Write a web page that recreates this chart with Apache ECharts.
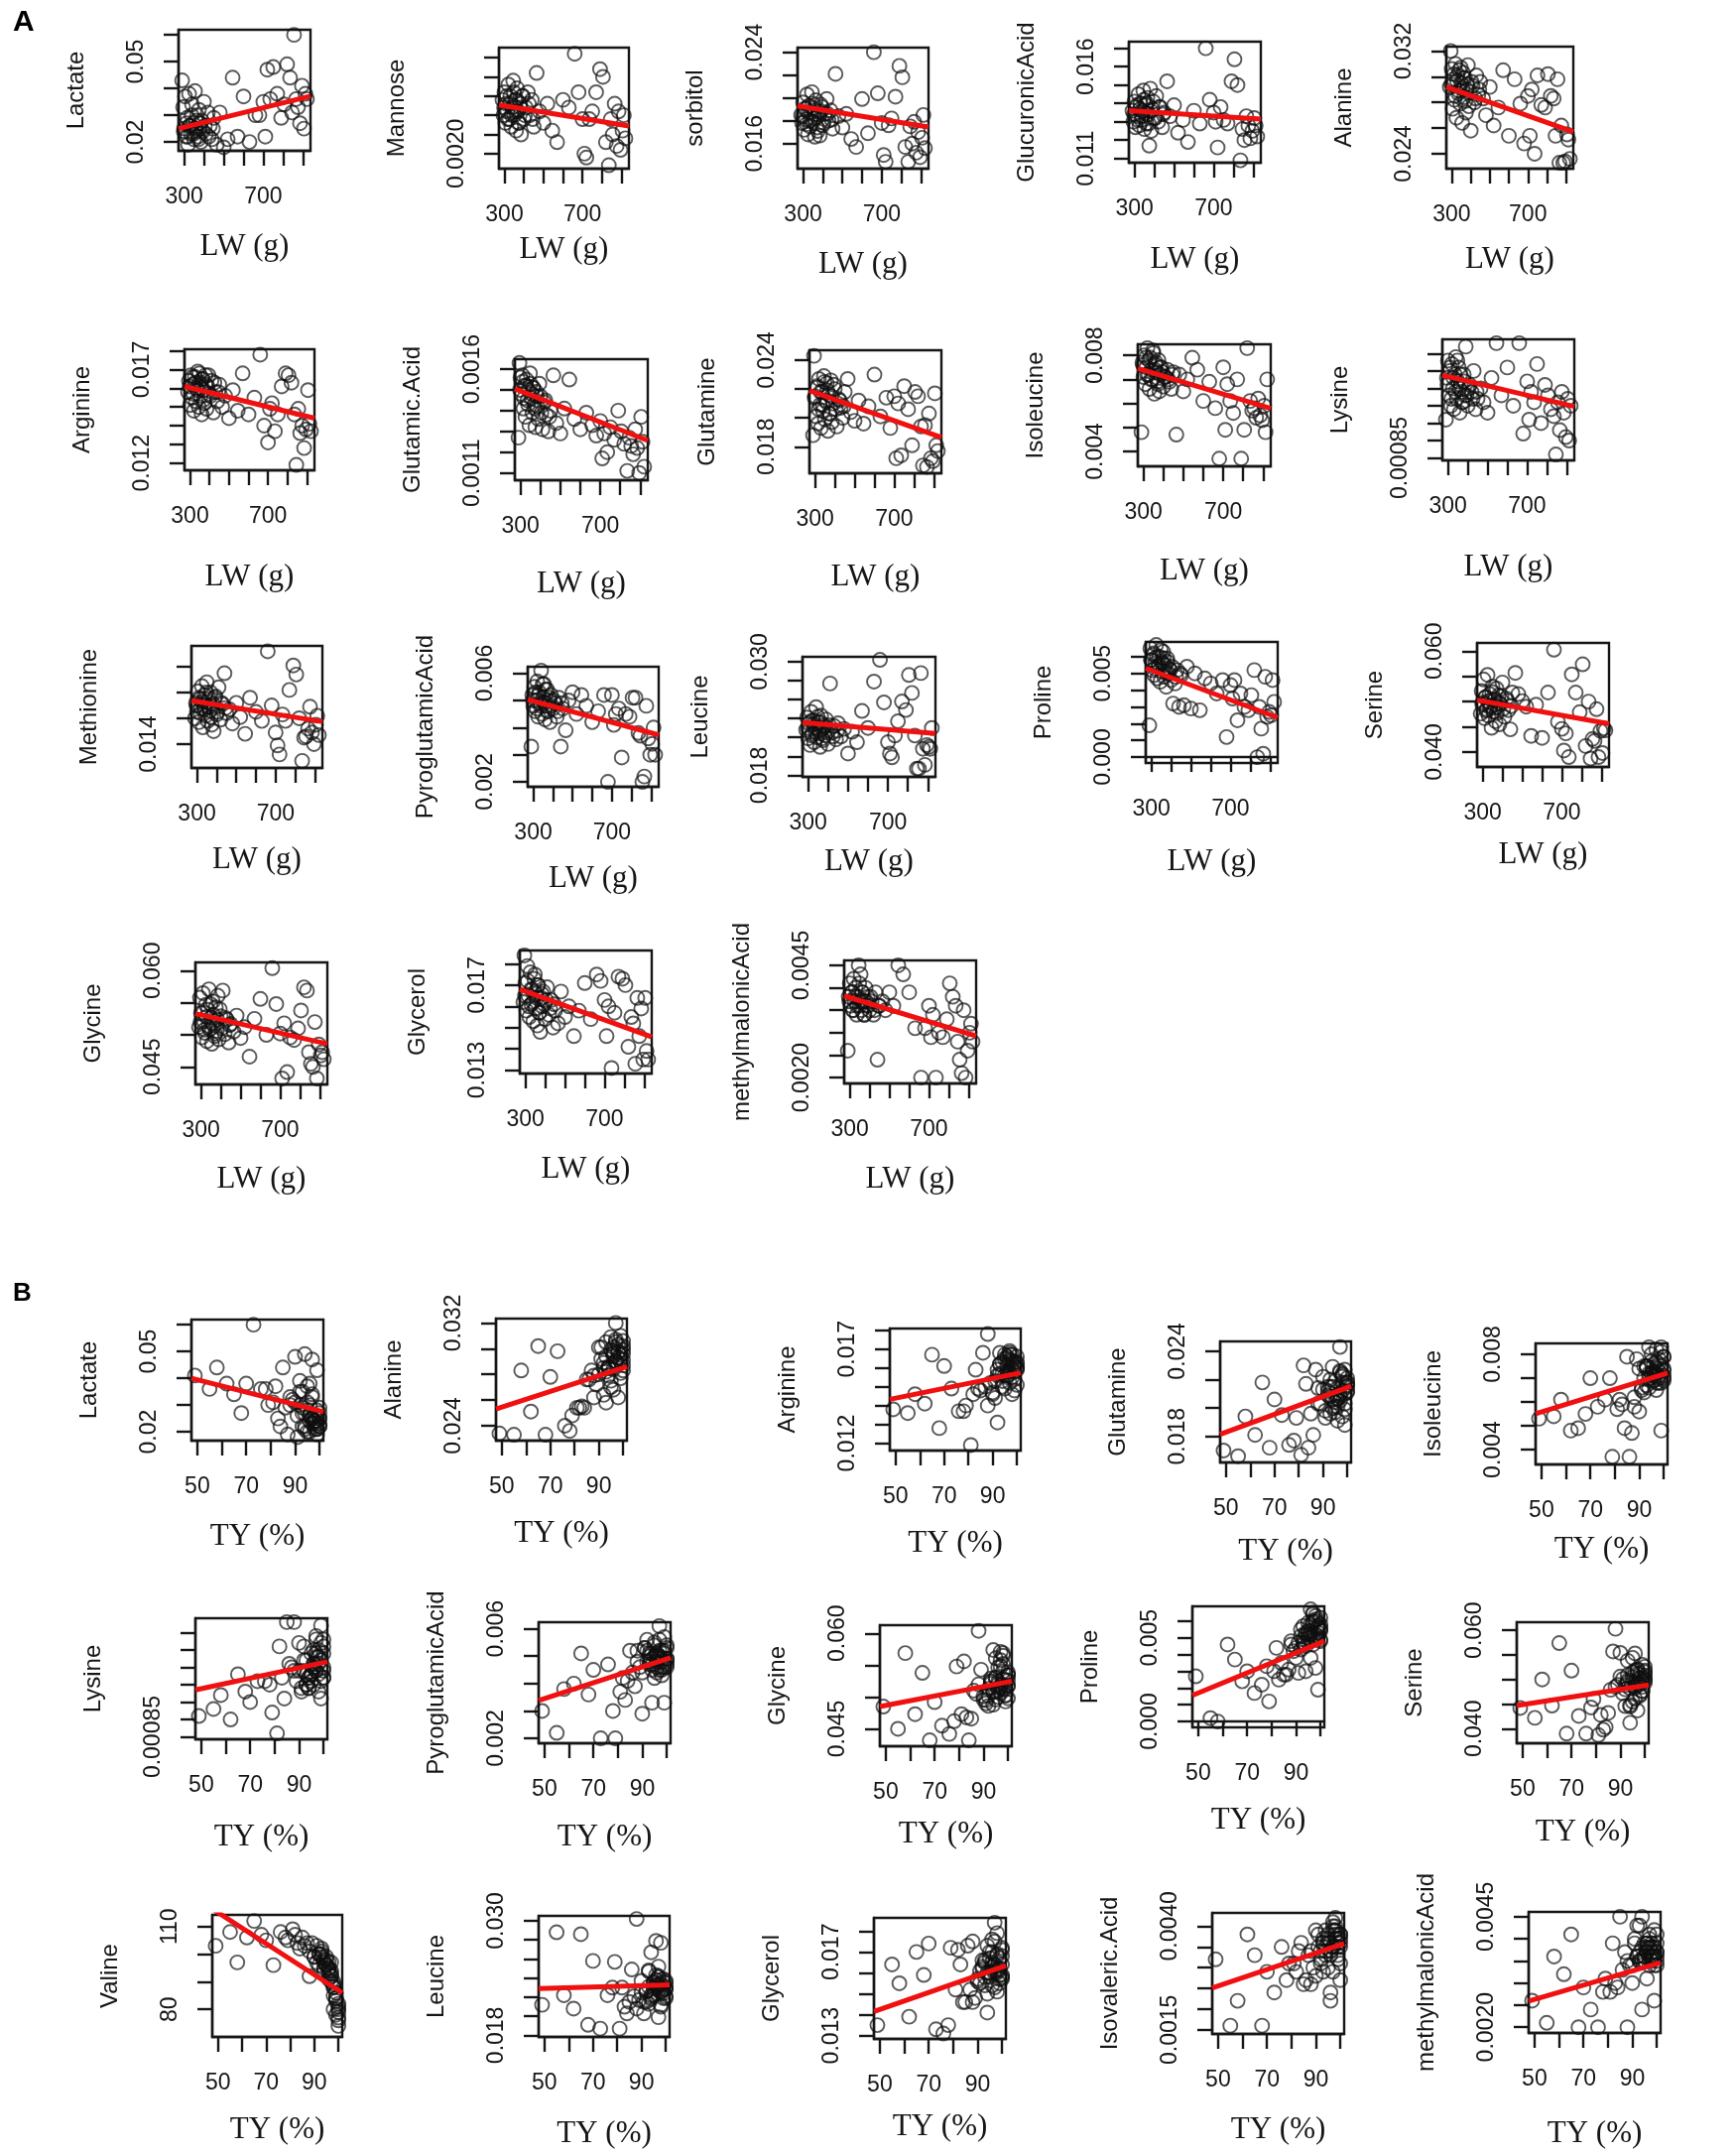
<!DOCTYPE html>
<html>
<head>
<meta charset="utf-8">
<script src="https://cdn.jsdelivr.net/npm/echarts@6/dist/echarts.min.js"></script>
<style>
  html, body { margin: 0; padding: 0; background: #fff; }
  #chart { width: 1750px; height: 2172px; }
</style>
</head>
<body>
<div id="chart"></div>
<script>
// one value per animal, same order in every array
const lw = [290, 295, 300, 305, 310, 315, 320, 325, 330, 335, 340, 345, 350, 355, 360, 365, 370, 375, 380, 385,
  390, 400, 410, 420, 430, 440, 450, 465, 480, 500, 520, 545, 570, 600, 630, 660, 680,
  700, 710, 720, 735, 750, 770, 790, 805, 820, 835, 845, 855, 865, 875, 885, 895, 905, 912, 920,
  298, 312, 318, 328, 338, 348, 358, 362, 372, 382, 395, 405, 425, 445];
const ty = [99, 97, 100, 95, 98, 93, 99, 96, 91, 100, 97, 94, 99, 92, 98, 96, 100, 89, 97, 95,
  99, 93, 98, 90, 96, 94, 100, 87, 95, 91, 98, 85, 93, 82, 96, 88, 79,
  92, 84, 97, 76, 90, 70, 86, 65, 94, 58, 81, 73, 55, 88, 68, 49, 83, 62, 78,
  96, 100, 94, 98, 92, 97, 100, 95, 99, 93, 98, 96, 100, 97];

const lactate = [0.043, 0.033, 0.025, 0.037, 0.022, 0.029, 0.019, 0.038, 0.026, 0.023, 0.034, 0.027, 0.021, 0.039, 0.024, 0.030, 0.022, 0.032, 0.025, 0.020,
  0.028, 0.035, 0.023, 0.031, 0.026, 0.021, 0.029, 0.019, 0.031, 0.018, 0.021, 0.044, 0.022, 0.037, 0.020, 0.030, 0.030,
  0.035, 0.022, 0.047, 0.036, 0.048, 0.038, 0.029, 0.034, 0.049, 0.044, 0.031, 0.060, 0.036, 0.033, 0.027, 0.041, 0.025, 0.038, 0.036,
  0.024, 0.027, 0.022, 0.026, 0.030, 0.023, 0.025, 0.028, 0.021, 0.027, 0.024, 0.026, 0.022, 0.025];
const mannose = [0.0034, 0.0030, 0.0036, 0.0028, 0.0033, 0.0031, 0.0038, 0.0029, 0.0035, 0.0027, 0.0032, 0.0039, 0.0030, 0.0034, 0.0026, 0.0037, 0.0031, 0.0028, 0.0033, 0.0025,
  0.0035, 0.0029, 0.0032, 0.0036, 0.0030, 0.0034, 0.0027, 0.0041, 0.0031, 0.0028, 0.0033, 0.0026, 0.0023, 0.0034, 0.0032, 0.0046, 0.0036,
  0.0029, 0.0020, 0.0019, 0.0029, 0.0031, 0.0036, 0.0042, 0.0040, 0.0023, 0.0017, 0.0029, 0.0025, 0.0033, 0.0022, 0.0031, 0.0021, 0.0026, 0.0030, 0.0024,
  0.0032, 0.0035, 0.0029, 0.0033, 0.0030, 0.0036, 0.0031, 0.0034, 0.0028, 0.0032, 0.0035, 0.0030, 0.0033, 0.0029];
const sorbitol = [0.0185, 0.0178, 0.0196, 0.0172, 0.0190, 0.0181, 0.0203, 0.0168, 0.0193, 0.0175, 0.0187, 0.0205, 0.0179, 0.0191, 0.0166, 0.0198, 0.0183, 0.0171, 0.0188, 0.0167,
  0.0194, 0.0176, 0.0186, 0.0199, 0.0180, 0.0189, 0.0173, 0.0221, 0.0184, 0.0174, 0.0186, 0.0164, 0.0157, 0.0199, 0.0169, 0.0240, 0.0204,
  0.0178, 0.0150, 0.0144, 0.0176, 0.0182, 0.0201, 0.0228, 0.0218, 0.0157, 0.0144, 0.0175, 0.0160, 0.0179, 0.0152, 0.0170, 0.0148, 0.0165, 0.0185, 0.0156,
  0.0184, 0.0191, 0.0177, 0.0187, 0.0180, 0.0195, 0.0182, 0.0189, 0.0174, 0.0185, 0.0192, 0.0178, 0.0186, 0.0181];
const glucuronicAcid = [0.0136, 0.0130, 0.0141, 0.0127, 0.0138, 0.0133, 0.0145, 0.0128, 0.0140, 0.0131, 0.0136, 0.0147, 0.0126, 0.0139, 0.0129, 0.0143, 0.0134, 0.0117, 0.0148, 0.0125,
  0.0137, 0.0132, 0.0144, 0.0130, 0.0138, 0.0127, 0.0135, 0.0152, 0.0133, 0.0139, 0.0124, 0.0131, 0.0119, 0.0136, 0.0129, 0.0170, 0.0142,
  0.0135, 0.0130, 0.0116, 0.0138, 0.0131, 0.0129, 0.0152, 0.0164, 0.0150, 0.0109, 0.0126, 0.0120, 0.0133, 0.0128, 0.0121, 0.0125, 0.0132, 0.0128, 0.0122,
  0.0134, 0.0139, 0.0131, 0.0137, 0.0133, 0.0142, 0.0135, 0.0140, 0.0129, 0.0136, 0.0141, 0.0132, 0.0138, 0.0134];
const alanine = [0.0292, 0.0320, 0.0306, 0.0275, 0.0298, 0.0282, 0.0310, 0.0268, 0.0301, 0.0287, 0.0305, 0.0279, 0.0295, 0.0264, 0.0303, 0.0284, 0.0299, 0.0272, 0.0290, 0.0309,
  0.0277, 0.0258, 0.0293, 0.0280, 0.0301, 0.0286, 0.0296, 0.0283, 0.0270, 0.0292, 0.0262, 0.0276, 0.0305, 0.0254, 0.0298, 0.0279, 0.0248,
  0.0285, 0.0254, 0.0290, 0.0240, 0.0301, 0.0278, 0.0276, 0.0302, 0.0285, 0.0283, 0.0254, 0.0298, 0.0233, 0.0262, 0.0233, 0.0234, 0.0255, 0.0251, 0.0236,
  0.0294, 0.0302, 0.0285, 0.0297, 0.0289, 0.0307, 0.0291, 0.0299, 0.0281, 0.0294, 0.0288, 0.0296, 0.0283, 0.0290];
const arginine = [0.0158, 0.0164, 0.0151, 0.0167, 0.0155, 0.0162, 0.0148, 0.0166, 0.0153, 0.0160, 0.0169, 0.0150, 0.0163, 0.0156, 0.0146, 0.0165, 0.0159, 0.0152, 0.0167, 0.0149,
  0.0161, 0.0157, 0.0164, 0.0147, 0.0158, 0.0153, 0.0162, 0.0150, 0.0156, 0.0144, 0.0159, 0.0148, 0.0168, 0.0146, 0.0155, 0.0178, 0.0140,
  0.0131, 0.0149, 0.0152, 0.0137, 0.0146, 0.0161, 0.0168, 0.0167, 0.0163, 0.0146, 0.0119, 0.0149, 0.0136, 0.0140, 0.0128, 0.0138, 0.0159, 0.0141, 0.0137,
  0.0161, 0.0166, 0.0157, 0.0163, 0.0159, 0.0168, 0.0160, 0.0165, 0.0154, 0.0162, 0.0167, 0.0156, 0.0163, 0.0158];
const glutamicAcid = [0.00127, 0.00163, 0.00156, 0.00148, 0.00157, 0.00141, 0.00152, 0.00137, 0.00155, 0.00145, 0.00150, 0.00133, 0.00153, 0.00146, 0.00139, 0.00151, 0.00143, 0.00132, 0.00149, 0.00142,
  0.00136, 0.00147, 0.00131, 0.00144, 0.00138, 0.00130, 0.00140, 0.00157, 0.00134, 0.00129, 0.00141, 0.00155, 0.00136, 0.00131, 0.00139, 0.00133, 0.00128,
  0.00135, 0.00117, 0.00129, 0.00120, 0.00132, 0.00126, 0.00140, 0.00130, 0.00124, 0.00111, 0.00127, 0.00123, 0.00119, 0.00131, 0.00122, 0.00110, 0.00137, 0.00125, 0.00113,
  0.00150, 0.00154, 0.00146, 0.00152, 0.00143, 0.00158, 0.00148, 0.00151, 0.00141, 0.00147, 0.00153, 0.00139, 0.00145, 0.00137];
const glutamine = [0.0188, 0.0243, 0.0215, 0.0201, 0.0222, 0.0196, 0.0227, 0.0209, 0.0193, 0.0218, 0.0205, 0.0229, 0.0199, 0.0212, 0.0224, 0.0191, 0.0216, 0.0203, 0.0226, 0.0197,
  0.0210, 0.0220, 0.0194, 0.0213, 0.0207, 0.0200, 0.0218, 0.0227, 0.0204, 0.0198, 0.0212, 0.0196, 0.0208, 0.0230, 0.0201, 0.0214, 0.0193,
  0.0215, 0.0172, 0.0210, 0.0174, 0.0222, 0.0206, 0.0181, 0.0218, 0.0215, 0.0194, 0.0167, 0.0195, 0.0166, 0.0203, 0.0172, 0.0170, 0.0217, 0.0181, 0.0177,
  0.0214, 0.0221, 0.0206, 0.0218, 0.0209, 0.0225, 0.0211, 0.0219, 0.0203, 0.0215, 0.0223, 0.0206, 0.0212, 0.0208];
const isoleucine = [0.0048, 0.0077, 0.0071, 0.0080, 0.0068, 0.0075, 0.0083, 0.0072, 0.0066, 0.0079, 0.0074, 0.0070, 0.0081, 0.0064, 0.0076, 0.0073, 0.0069, 0.0078, 0.0065, 0.0072,
  0.0075, 0.0067, 0.0071, 0.0074, 0.0069, 0.0066, 0.0073, 0.0047, 0.0072, 0.0065, 0.0070, 0.0079, 0.0074, 0.0061, 0.0069, 0.0058, 0.0037,
  0.0075, 0.0049, 0.0068, 0.0061, 0.0056, 0.0070, 0.0037, 0.0049, 0.0083, 0.0061, 0.0057, 0.0058, 0.0054, 0.0062, 0.0055, 0.0053, 0.0059, 0.0048, 0.0070,
  0.0076, 0.0079, 0.0072, 0.0078, 0.0070, 0.0082, 0.0074, 0.0077, 0.0068, 0.0075, 0.0073, 0.0071, 0.0070, 0.0072];
const lysine = [0.00096, 0.00108, 0.00113, 0.00103, 0.00110, 0.00100, 0.00112, 0.00105, 0.00099, 0.00109, 0.00114, 0.00102, 0.00107, 0.00111, 0.00098, 0.00106, 0.00104, 0.00101, 0.00109, 0.00103,
  0.00117, 0.00100, 0.00106, 0.00104, 0.00110, 0.00099, 0.00102, 0.00105, 0.00101, 0.00098, 0.00108, 0.00118, 0.00103, 0.00111, 0.00100, 0.00118, 0.00092,
  0.00107, 0.00096, 0.00104, 0.00101, 0.00112, 0.00095, 0.00106, 0.00103, 0.00099, 0.00097, 0.00086, 0.00101, 0.00093, 0.00104, 0.00098, 0.00091, 0.00102, 0.00090, 0.00100,
  0.00106, 0.00111, 0.00102, 0.00108, 0.00104, 0.00113, 0.00105, 0.00109, 0.00101, 0.00107, 0.00103, 0.00105, 0.00102, 0.00104];
const methionine = [0.0160, 0.0172, 0.0165, 0.0181, 0.0157, 0.0175, 0.0168, 0.0185, 0.0153, 0.0170, 0.0178, 0.0162, 0.0188, 0.0158, 0.0173, 0.0166, 0.0180, 0.0155, 0.0169, 0.0150,
  0.0176, 0.0163, 0.0184, 0.0159, 0.0171, 0.0195, 0.0164, 0.0167, 0.0156, 0.0172, 0.0161, 0.0148, 0.0176, 0.0165, 0.0158, 0.0212, 0.0170,
  0.0149, 0.0139, 0.0132, 0.0163, 0.0158, 0.0182, 0.0201, 0.0194, 0.0160, 0.0127, 0.0145, 0.0146, 0.0152, 0.0169, 0.0149, 0.0140, 0.0155, 0.0162, 0.0147,
  0.0170, 0.0176, 0.0164, 0.0173, 0.0167, 0.0180, 0.0169, 0.0175, 0.0161, 0.0171, 0.0177, 0.0165, 0.0172, 0.0168];
const pyroglutamicAcid = [0.0033, 0.0052, 0.0048, 0.0055, 0.0046, 0.0050, 0.0057, 0.0044, 0.0053, 0.0049, 0.0061, 0.0045, 0.0051, 0.0056, 0.0043, 0.0048, 0.0054, 0.0046, 0.0050, 0.0042,
  0.0052, 0.0047, 0.0049, 0.0044, 0.0051, 0.0033, 0.0047, 0.0039, 0.0050, 0.0053, 0.0045, 0.0052, 0.0048, 0.0042, 0.0046, 0.0052, 0.0020,
  0.0052, 0.0041, 0.0045, 0.0047, 0.0029, 0.0045, 0.0044, 0.0051, 0.0051, 0.0038, 0.0037, 0.0020, 0.0022, 0.0048, 0.0036, 0.0030, 0.0034, 0.0040, 0.0030,
  0.0050, 0.0053, 0.0047, 0.0052, 0.0048, 0.0056, 0.0049, 0.0054, 0.0046, 0.0051, 0.0048, 0.0050, 0.0046, 0.0049];
const leucine = [0.0228, 0.0241, 0.0219, 0.0235, 0.0212, 0.0247, 0.0224, 0.0238, 0.0215, 0.0231, 0.0252, 0.0220, 0.0236, 0.0226, 0.0210, 0.0243, 0.0229, 0.0217, 0.0233, 0.0222,
  0.0239, 0.0213, 0.0277, 0.0225, 0.0232, 0.0218, 0.0235, 0.0221, 0.0229, 0.0203, 0.0226, 0.0215, 0.0248, 0.0230, 0.0279, 0.0302, 0.0257,
  0.0215, 0.0203, 0.0199, 0.0222, 0.0237, 0.0258, 0.0249, 0.0286, 0.0267, 0.0222, 0.0187, 0.0187, 0.0288, 0.0208, 0.0191, 0.0212, 0.0210, 0.0208, 0.0230,
  0.0230, 0.0237, 0.0222, 0.0234, 0.0226, 0.0242, 0.0228, 0.0236, 0.0219, 0.0231, 0.0225, 0.0233, 0.0221, 0.0227];
const proline = [0.0019, 0.0065, 0.0058, 0.0052, 0.0061, 0.0049, 0.0056, 0.0067, 0.0047, 0.0054, 0.0060, 0.0045, 0.0057, 0.0051, 0.0063, 0.0048, 0.0055, 0.0042, 0.0059, 0.0050,
  0.0053, 0.0046, 0.0032, 0.0044, 0.0052, 0.0030, 0.0049, 0.0031, 0.0054, 0.0029, 0.0050, 0.0028, 0.0047, 0.0044, 0.0038, 0.0046, 0.0012,
  0.0043, 0.0035, 0.0046, 0.0022, 0.0038, 0.0030, 0.0028, 0.0037, 0.0052, 0.0000, 0.0030, 0.0017, 0.0002, 0.0048, 0.0024, 0.0027, 0.0025, 0.0046, 0.0033,
  0.0058, 0.0062, 0.0053, 0.0060, 0.0055, 0.0064, 0.0056, 0.0059, 0.0051, 0.0057, 0.0052, 0.0054, 0.0048, 0.0050];
const serine = [0.0476, 0.0521, 0.0498, 0.0544, 0.0467, 0.0509, 0.0485, 0.0553, 0.0472, 0.0515, 0.0492, 0.0448, 0.0530, 0.0480, 0.0503, 0.0461, 0.0526, 0.0489, 0.0512, 0.0455,
  0.0495, 0.0538, 0.0470, 0.0506, 0.0483, 0.0445, 0.0518, 0.0557, 0.0515, 0.0501, 0.0490, 0.0432, 0.0494, 0.0428, 0.0518, 0.0603, 0.0460,
  0.0446, 0.0403, 0.0437, 0.0390, 0.0554, 0.0518, 0.0479, 0.0574, 0.0412, 0.0500, 0.0387, 0.0426, 0.0422, 0.0485, 0.0390, 0.0442, 0.0398, 0.0447, 0.0443,
  0.0495, 0.0508, 0.0482, 0.0501, 0.0488, 0.0519, 0.0493, 0.0505, 0.0477, 0.0498, 0.0511, 0.0486, 0.0502, 0.0491];
const glycine = [0.0512, 0.0558, 0.0534, 0.0496, 0.0565, 0.0521, 0.0503, 0.0547, 0.0490, 0.0539, 0.0571, 0.0509, 0.0527, 0.0486, 0.0552, 0.0515, 0.0498, 0.0543, 0.0506, 0.0561,
  0.0493, 0.0529, 0.0569, 0.0501, 0.0524, 0.0488, 0.0517, 0.0505, 0.0530, 0.0495, 0.0512, 0.0466, 0.0525, 0.0556, 0.0500, 0.0604, 0.0548,
  0.0502, 0.0432, 0.0518, 0.0442, 0.0496, 0.0492, 0.0510, 0.0538, 0.0574, 0.0569, 0.0473, 0.0455, 0.0450, 0.0520, 0.0432, 0.0485, 0.0468, 0.0473, 0.0462,
  0.0520, 0.0535, 0.0508, 0.0528, 0.0513, 0.0548, 0.0518, 0.0531, 0.0502, 0.0524, 0.0540, 0.0510, 0.0526, 0.0515];
const glycerol = [0.0162, 0.0184, 0.0171, 0.0158, 0.0179, 0.0165, 0.0155, 0.0176, 0.0161, 0.0168, 0.0153, 0.0173, 0.0159, 0.0166, 0.0151, 0.0170, 0.0157, 0.0148, 0.0164, 0.0160,
  0.0167, 0.0154, 0.0169, 0.0156, 0.0163, 0.0150, 0.0158, 0.0152, 0.0167, 0.0155, 0.0160, 0.0146, 0.0158, 0.0171, 0.0154, 0.0175, 0.0172,
  0.0163, 0.0146, 0.0160, 0.0131, 0.0157, 0.0174, 0.0173, 0.0170, 0.0141, 0.0155, 0.0152, 0.0133, 0.0164, 0.0146, 0.0159, 0.0135, 0.0164, 0.0139, 0.0135,
  0.0165, 0.0172, 0.0160, 0.0168, 0.0162, 0.0175, 0.0164, 0.0170, 0.0157, 0.0166, 0.0161, 0.0163, 0.0159, 0.0161];
const methylmalonicAcid = [0.0026, 0.0038, 0.0041, 0.0036, 0.0039, 0.0035, 0.0042, 0.0037, 0.0040, 0.0034, 0.0038, 0.0045, 0.0036, 0.0043, 0.0035, 0.0039, 0.0037, 0.0034, 0.0040, 0.0036,
  0.0038, 0.0035, 0.0037, 0.0034, 0.0039, 0.0024, 0.0036, 0.0037, 0.0035, 0.0039, 0.0036, 0.0045, 0.0043, 0.0039, 0.0031, 0.0020, 0.0031,
  0.0036, 0.0029, 0.0034, 0.0020, 0.0030, 0.0029, 0.0033, 0.0041, 0.0038, 0.0036, 0.0028, 0.0024, 0.0021, 0.0035, 0.0020, 0.0026, 0.0030, 0.0032, 0.0028,
  0.0037, 0.0039, 0.0035, 0.0038, 0.0036, 0.0041, 0.0037, 0.0039, 0.0034, 0.0037, 0.0036, 0.0038, 0.0035, 0.0036];
const valine = [84, 97, 82, 99, 88, 101, 78, 95, 103, 74, 92, 98, 86, 100, 80, 97, 77, 104, 94, 96,
  83, 102, 89, 99, 93, 95, 79, 104, 98, 97, 85, 106, 100, 107, 91, 92, 105,
  96, 102, 90, 108, 99, 105, 103, 112, 94, 97, 109, 96, 108, 101, 107, 103, 104, 106, 106,
  95, 80, 97, 88, 100, 93, 76, 96, 84, 99, 90, 94, 81, 92];
const isovalericAcid = [0.0035, 0.0039, 0.0031, 0.0036, 0.0040, 0.0029, 0.0037, 0.0033, 0.0038, 0.0027, 0.0041, 0.0034, 0.0036, 0.0031, 0.0039, 0.0024, 0.0038, 0.0030, 0.0035, 0.0037,
  0.0033, 0.0036, 0.0042, 0.0028, 0.0034, 0.0039, 0.0036, 0.0033, 0.0030, 0.0035, 0.0038, 0.0026, 0.0037, 0.0029, 0.0022, 0.0034, 0.0031,
  0.0032, 0.0036, 0.0029, 0.0035, 0.0039, 0.0029, 0.0027, 0.0033, 0.0035, 0.0022, 0.0031, 0.0024, 0.0016, 0.0026, 0.0016, 0.0032, 0.0034, 0.0038, 0.0027,
  0.0036, 0.0038, 0.0033, 0.0037, 0.0034, 0.0040, 0.0035, 0.0038, 0.0032, 0.0036, 0.0039, 0.0034, 0.0037, 0.0035];

// fitted red lines, y at the left and right edge of each box
const fitA = [[0.0250, 0.0371], [0.00327, 0.00272], [0.0193, 0.01745], [0.0136, 0.01315], [0.0292, 0.0257],
  [0.0161, 0.0144], [0.001505, 0.001256], [0.0219, 0.01865], [0.00745, 0.00579], [0.001088, 0.000998],
  [0.01737, 0.01574], [0.00503, 0.00373], [0.02357, 0.02242], [0.00531, 0.00236], [0.0503, 0.0456],
  [0.0533, 0.0486], [0.0168, 0.01456], [0.00382, 0.00293]];
const fitB = [[0.0400, 0.0275], [0.0253, 0.0286], [0.01433, 0.01574], [0.01814, 0.02154], [0.00551, 0.00722],
  [0.000985, 0.001066], [0.00338, 0.00494], [0.0485, 0.0525], [0.00156, 0.0048], [0.0447, 0.0489],
  [116.4, 86.0], [0.0229, 0.0233], [0.01415, 0.01635], [0.00251, 0.00358], [0.00259, 0.00346]];

// y scales: name, min, max, ticks, tick labels
const yScales = [
  ['Lactate', 0.0167, 0.0619, [0.02, 0.03, 0.04, 0.05, 0.06], ['0.02', '0.05']],
  ['Mannose', 0.00161, 0.00476, [0.0020, 0.0025, 0.0030, 0.0035, 0.0040, 0.0045], ['0.0020']],
  ['sorbitol', 0.0138, 0.0244, [0.016, 0.018, 0.020, 0.022, 0.024], ['0.016', '0.024']],
  ['GlucuronicAcid', 0.01077, 0.01736, [0.011, 0.012, 0.013, 0.014, 0.015, 0.016, 0.017], ['0.011', '0.016']],
  ['Alanine', 0.02284, 0.03234, [0.024, 0.026, 0.028, 0.030, 0.032], ['0.024', '0.032']],
  ['Arginine', 0.01161, 0.01809, [0.012, 0.013, 0.014, 0.015, 0.016, 0.017, 0.018], ['0.012', '0.017']],
  ['Glutamic.Acid', 0.001065, 0.001648, [0.0011, 0.0012, 0.0013, 0.0014, 0.0015, 0.0016], ['0.0011', '0.0016']],
  ['Glutamine', 0.01616, 0.02469, [0.018, 0.020, 0.022, 0.024], ['0.018', '0.024']],
  ['Isoleucine', 0.00338, 0.00846, [0.004, 0.005, 0.006, 0.007, 0.008], ['0.004', '0.008']],
  ['Lysine', 0.000843, 0.001191, [0.00085, 0.0009, 0.00095, 0.001, 0.00105, 0.0011, 0.00115], ['0.00085']],
  ['Methionine', 0.01215, 0.02162, [0.014, 0.016, 0.018, 0.020], ['0.014']],
  ['PyroglutamicAcid', 0.00182, 0.00624, [0.002, 0.003, 0.004, 0.005, 0.006], ['0.002', '0.006']],
  ['Leucine', 0.01783, 0.03052, [0.018, 0.020, 0.022, 0.024, 0.026, 0.028, 0.030], ['0.018', '0.030']],
  ['Proline', -0.00035, 0.00688, [0, 0.001, 0.002, 0.003, 0.004, 0.005, 0.006], ['0.000', '0.005']],
  ['Serine', 0.03704, 0.06164, [0.040, 0.045, 0.050, 0.055, 0.060], ['0.040', '0.060']],
  ['Glycine', 0.04227, 0.06129, [0.045, 0.050, 0.055, 0.060], ['0.045', '0.060']],
  ['Glycerol', 0.01284, 0.01863, [0.013, 0.014, 0.015, 0.016, 0.017, 0.018], ['0.013', '0.017']],
  ['methylmalonicAcid', 0.00187, 0.00461, [0.0020, 0.0025, 0.0030, 0.0035, 0.0040, 0.0045], ['0.0020', '0.0045']],
  ['Valine', 70, 114.2, [80, 90, 100, 110], ['80', '110']],
  ['Isovaleric.Acid', 0.0014, 0.00432, [0.0015, 0.0020, 0.0025, 0.0030, 0.0035, 0.0040], ['0.0015', '0.0040']]
];

const lwScale = { title: 'LW (g)', min: 272, max: 938, ticks: [300, 400, 500, 600, 700, 800, 900], labels: ['300', '700'] };
const tyScale = { title: 'TY (%)', min: 47.6, max: 101.6, ticks: [50, 60, 70, 80, 90, 100], labels: ['50', '70', '90'] };

const plotsA = [['Lactate', lactate], ['Mannose', mannose], ['sorbitol', sorbitol], ['GlucuronicAcid', glucuronicAcid], ['Alanine', alanine],
  ['Arginine', arginine], ['Glutamic.Acid', glutamicAcid], ['Glutamine', glutamine], ['Isoleucine', isoleucine], ['Lysine', lysine],
  ['Methionine', methionine], ['PyroglutamicAcid', pyroglutamicAcid], ['Leucine', leucine], ['Proline', proline], ['Serine', serine],
  ['Glycine', glycine], ['Glycerol', glycerol], ['methylmalonicAcid', methylmalonicAcid]];
const plotsB = [['Lactate', lactate], ['Alanine', alanine], ['Arginine', arginine], ['Glutamine', glutamine], ['Isoleucine', isoleucine],
  ['Lysine', lysine], ['PyroglutamicAcid', pyroglutamicAcid], ['Glycine', glycine], ['Proline', proline], ['Serine', serine],
  ['Valine', valine], ['Leucine', leucine], ['Glycerol', glycerol], ['Isovaleric.Acid', isovalericAcid], ['methylmalonicAcid', methylmalonicAcid]];

// box layout: left, top, width, height, centre line of the x title
const boxesA = [[180, 30, 133, 122, 250], [503, 48, 131, 122, 253], [804, 48, 132, 122, 268], [1138, 42, 133, 122, 263], [1458, 47, 128, 123, 263],
  [186, 352, 131, 122, 583], [519, 362, 134, 122, 590], [816, 353, 133, 124, 583], [1147, 347, 134, 123, 577], [1454, 342, 133, 122, 573],
  [193, 651, 132, 123, 868], [532, 672, 132, 121, 887], [809, 662, 134, 121, 870], [1155, 647, 133, 122, 870], [1489, 648, 133, 125, 863],
  [197, 970, 133, 123, 1190], [524, 958, 133, 124, 1180], [851, 968, 133, 124, 1190]];
const boxesB = [[193, 1330, 133, 122, 1550], [500, 1329, 132, 123, 1547], [897, 1339, 132, 123, 1557], [1230, 1352, 132, 122, 1565], [1548, 1354, 133, 122, 1563],
  [197, 1631, 133, 122, 1853], [543, 1635, 133, 122, 1853], [887, 1638, 133, 122, 1850], [1202, 1619, 133, 122, 1836], [1529, 1635, 133, 122, 1848],
  [214, 1930, 131, 123, 2148], [543, 1931, 132, 122, 2152], [881, 1933, 133, 122, 2145], [1222, 1928, 133, 122, 2148], [1541, 1927, 133, 122, 2152]];

const SANS = 'Liberation Sans, Arial, sans-serif';
const SERIF = 'Liberation Serif, Times New Roman, serif';
const INK = '#161616';

const grid = [], xAxis = [], yAxis = [], series = [];

function decimals(s) {
  return s.indexOf('.') < 0 ? 0 : s.length - s.indexOf('.') - 1;
}

function addPlot(box, name, xs, ys, xsc, fit) {
  const i = grid.length;
  const [left, top, width, height, titleY] = box;
  const ysc = yScales.find(r => r[0] === name);
  const yDec = decimals(ysc[4][0]);
  grid.push({ left, top, width, height, show: true, borderColor: INK, borderWidth: 2.4 });
  xAxis.push({
    gridIndex: i, type: 'value', min: xsc.min, max: xsc.max,
    name: xsc.title, nameLocation: 'middle', nameGap: titleY - top - height - 17,
    nameTextStyle: { fontFamily: SERIF, fontSize: 31, color: INK },
    axisLine: { show: true, lineStyle: { color: INK, width: 2.4 } },
    axisTick: { show: true, length: 15, customValues: xsc.ticks, lineStyle: { color: INK, width: 2.4 } },
    axisLabel: { customValues: xsc.labels.map(Number), formatter: v => String(v), margin: 35,
      fontFamily: SANS, fontSize: 23, color: INK },
    splitLine: { show: false }
  });
  yAxis.push({
    gridIndex: i, type: 'value', min: ysc[1], max: ysc[2],
    name: name, nameLocation: 'middle', nameGap: 91,
    nameTextStyle: { fontFamily: SANS, fontSize: 24, color: INK },
    axisLine: { show: true, lineStyle: { color: INK, width: 2.4 } },
    axisTick: { show: true, length: 15, customValues: ysc[3], lineStyle: { color: INK, width: 2.4 } },
    axisLabel: { customValues: ysc[4].map(Number), formatter: v => v.toFixed(yDec), rotate: 90, margin: 31,
      fontFamily: SANS, fontSize: 23, color: INK },
    splitLine: { show: false }
  });
  series.push({
    type: 'scatter', xAxisIndex: i, yAxisIndex: i,
    data: xs.map((x, k) => [x, ys[k]]),
    symbol: 'circle', symbolSize: 14,
    itemStyle: { color: 'rgba(0,0,0,0)', borderColor: 'rgba(15,15,15,0.85)', borderWidth: 1.9 },
    silent: true
  });
  series.push({
    type: 'line', xAxisIndex: i, yAxisIndex: i,
    data: [[xsc.min, fit[0]], [xsc.max, fit[1]]],
    symbol: 'none', clip: true, z: 5,
    lineStyle: { color: '#f01010', width: 5 },
    silent: true
  });
}

plotsA.forEach((p, k) => addPlot(boxesA[k], p[0], lw, p[1], lwScale, fitA[k]));
plotsB.forEach((p, k) => addPlot(boxesB[k], p[0], ty, p[1], tyScale, fitB[k]));

const chart = echarts.init(document.getElementById('chart'));
chart.setOption({
  animation: false,
  backgroundColor: '#ffffff',
  title: [
    { text: 'A', left: 8, top: 3, textStyle: { fontFamily: SANS, fontWeight: 'bold', fontSize: 30, color: '#000' } },
    { text: 'B', left: 8, top: 1286, textStyle: { fontFamily: SANS, fontWeight: 'bold', fontSize: 26, color: '#000' } }
  ],
  grid: grid,
  xAxis: xAxis,
  yAxis: yAxis,
  series: series
});
</script>
</body>
</html>
